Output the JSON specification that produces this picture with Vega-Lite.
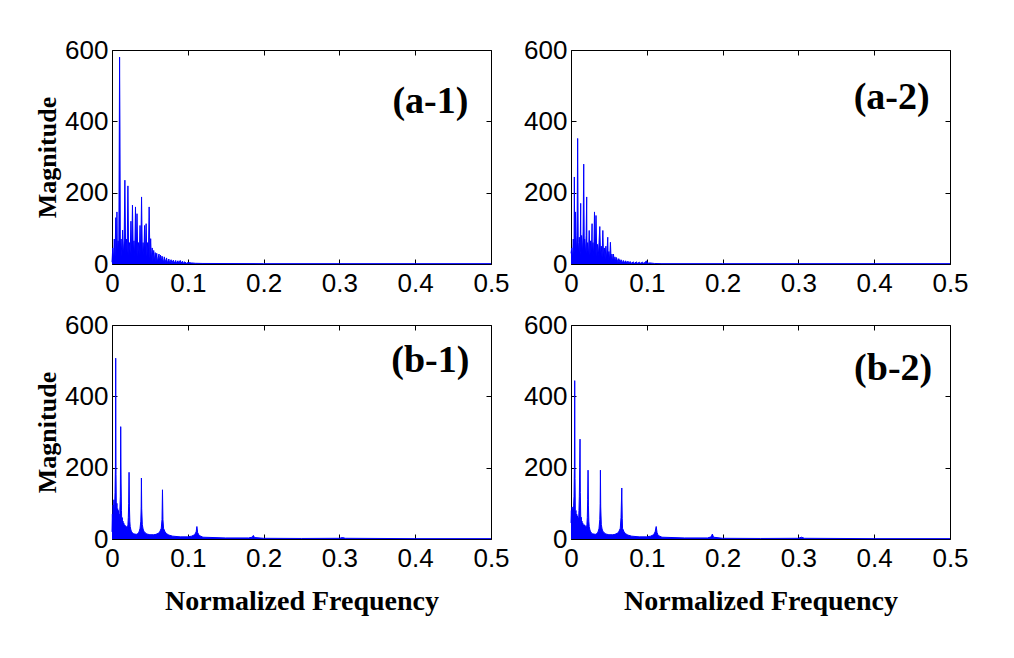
{
  "$schema": "https://vega.github.io/schema/vega-lite/v6.json",
  "background": "white",
  "padding": {"left": 34, "top": 36, "right": 5, "bottom": 5},
  "datasets": {
    "labels": [
      {"p": "(a-1)", "f": 0.42, "m": 455},
      {"p": "(a-2)", "f": 0.423, "m": 465},
      {"p": "(b-1)", "f": 0.42, "m": 499},
      {"p": "(b-2)", "f": 0.425, "m": 477}
    ],
    "a1": [
      {"f":0.000,"m":5},{"f":0.001,"m":45},{"f":0.002,"m":10},{"f":0.003,"m":70},{"f":0.004,"m":20},{"f":0.005,"m":130},{"f":0.006,"m":25},{"f":0.0065,"m":146},{"f":0.007,"m":30},{"f":0.008,"m":65},{"f":0.009,"m":40},{"f":0.0095,"m":300},{"f":0.010,"m":580},{"f":0.0105,"m":370},{"f":0.011,"m":45},{"f":0.012,"m":70},{"f":0.013,"m":20},{"f":0.014,"m":95},{"f":0.015,"m":25},{"f":0.016,"m":65},{"f":0.017,"m":235},{"f":0.018,"m":25},{"f":0.019,"m":70},{"f":0.020,"m":30},{"f":0.021,"m":219},{"f":0.022,"m":20},{"f":0.023,"m":60},{"f":0.024,"m":30},{"f":0.025,"m":120},{"f":0.026,"m":20},{"f":0.027,"m":165},{"f":0.028,"m":30},{"f":0.029,"m":65},{"f":0.030,"m":20},{"f":0.031,"m":160},{"f":0.032,"m":25},{"f":0.033,"m":141},{"f":0.034,"m":20},{"f":0.035,"m":60},{"f":0.036,"m":22},{"f":0.037,"m":108},{"f":0.038,"m":25},{"f":0.039,"m":188},{"f":0.040,"m":20},{"f":0.041,"m":60},{"f":0.042,"m":25},{"f":0.043,"m":108},{"f":0.044,"m":20},{"f":0.045,"m":113},{"f":0.046,"m":20},{"f":0.047,"m":60},{"f":0.048,"m":18},{"f":0.049,"m":160},{"f":0.050,"m":15},{"f":0.051,"m":71},{"f":0.052,"m":10},{"f":0.053,"m":45},{"f":0.054,"m":8},{"f":0.055,"m":38},{"f":0.056,"m":8},{"f":0.057,"m":32},{"f":0.058,"m":6},{"f":0.059,"m":30},{"f":0.060,"m":6},{"f":0.062,"m":28},{"f":0.063,"m":5},{"f":0.064,"m":25},{"f":0.065,"m":5},{"f":0.066,"m":22},{"f":0.068,"m":4},{"f":0.069,"m":20},{"f":0.070,"m":4},{"f":0.072,"m":17},{"f":0.073,"m":3},{"f":0.075,"m":14},{"f":0.076,"m":3},{"f":0.078,"m":12},{"f":0.079,"m":3},{"f":0.081,"m":11},{"f":0.082,"m":2},{"f":0.084,"m":10},{"f":0.085,"m":2},{"f":0.087,"m":9},{"f":0.088,"m":2},{"f":0.090,"m":10},{"f":0.091,"m":2},{"f":0.093,"m":8},{"f":0.094,"m":2},{"f":0.096,"m":6},{"f":0.098,"m":2},{"f":0.100,"m":4},{"f":0.105,"m":3},{"f":0.110,"m":2},{"f":0.120,"m":1.5},{"f":0.2,"m":1},{"f":0.3,"m":1},{"f":0.4,"m":1},{"f":0.5,"m":1}
    ],
    "a2": [
      {"f":0.000,"m":30},{"f":0.001,"m":45},{"f":0.002,"m":15},{"f":0.003,"m":70},{"f":0.004,"m":25},{"f":0.0044,"m":244},{"f":0.005,"m":40},{"f":0.006,"m":146},{"f":0.007,"m":30},{"f":0.008,"m":80},{"f":0.0088,"m":352},{"f":0.0095,"m":60},{"f":0.010,"m":30},{"f":0.011,"m":75},{"f":0.012,"m":25},{"f":0.0128,"m":170},{"f":0.013,"m":35},{"f":0.014,"m":80},{"f":0.015,"m":25},{"f":0.016,"m":90},{"f":0.0168,"m":280},{"f":0.0175,"m":40},{"f":0.018,"m":70},{"f":0.019,"m":25},{"f":0.020,"m":80},{"f":0.0207,"m":188},{"f":0.021,"m":30},{"f":0.022,"m":60},{"f":0.023,"m":20},{"f":0.024,"m":94},{"f":0.025,"m":25},{"f":0.026,"m":65},{"f":0.027,"m":20},{"f":0.0278,"m":113},{"f":0.028,"m":25},{"f":0.029,"m":60},{"f":0.030,"m":20},{"f":0.031,"m":146},{"f":0.032,"m":25},{"f":0.033,"m":136},{"f":0.034,"m":20},{"f":0.035,"m":55},{"f":0.036,"m":20},{"f":0.037,"m":60},{"f":0.038,"m":105},{"f":0.039,"m":20},{"f":0.040,"m":50},{"f":0.041,"m":18},{"f":0.042,"m":94},{"f":0.043,"m":15},{"f":0.044,"m":45},{"f":0.045,"m":15},{"f":0.046,"m":50},{"f":0.047,"m":12},{"f":0.0485,"m":75},{"f":0.049,"m":12},{"f":0.050,"m":35},{"f":0.051,"m":10},{"f":0.052,"m":61},{"f":0.053,"m":8},{"f":0.054,"m":28},{"f":0.055,"m":6},{"f":0.056,"m":28},{"f":0.057,"m":6},{"f":0.058,"m":20},{"f":0.059,"m":5},{"f":0.060,"m":18},{"f":0.062,"m":4},{"f":0.063,"m":15},{"f":0.065,"m":4},{"f":0.066,"m":12},{"f":0.068,"m":3},{"f":0.069,"m":10},{"f":0.071,"m":3},{"f":0.072,"m":9},{"f":0.074,"m":2},{"f":0.075,"m":8},{"f":0.077,"m":2},{"f":0.078,"m":7},{"f":0.080,"m":2},{"f":0.082,"m":6},{"f":0.084,"m":2},{"f":0.086,"m":6},{"f":0.088,"m":2},{"f":0.090,"m":5},{"f":0.092,"m":2},{"f":0.094,"m":5},{"f":0.096,"m":2},{"f":0.098,"m":5},{"f":0.0995,"m":9},{"f":0.101,"m":2},{"f":0.104,"m":3},{"f":0.110,"m":1.5},{"f":0.120,"m":1},{"f":0.2,"m":1},{"f":0.3,"m":1},{"f":0.4,"m":1},{"f":0.5,"m":1}
    ],
    "b1": [
      {"f":0.000,"m":20},{"f":0.0005,"m":70},{"f":0.001,"m":30},{"f":0.0015,"m":95},{"f":0.002,"m":40},{"f":0.0025,"m":110},{"f":0.003,"m":50},{"f":0.0035,"m":90},{"f":0.004,"m":130},{"f":0.0045,"m":200},{"f":0.0049,"m":507},{"f":0.0053,"m":180},{"f":0.0057,"m":90},{"f":0.006,"m":50},{"f":0.0065,"m":100},{"f":0.007,"m":40},{"f":0.0075,"m":85},{"f":0.008,"m":35},{"f":0.0085,"m":80},{"f":0.009,"m":30},{"f":0.0095,"m":70},{"f":0.010,"m":40},{"f":0.0105,"m":90},{"f":0.011,"m":120},{"f":0.0115,"m":315},{"f":0.012,"m":157},{"f":0.0125,"m":80},{"f":0.013,"m":35},{"f":0.0135,"m":60},{"f":0.014,"m":25},{"f":0.0145,"m":50},{"f":0.015,"m":20},{"f":0.0155,"m":45},{"f":0.016,"m":18},{"f":0.0165,"m":40},{"f":0.017,"m":15},{"f":0.0175,"m":38},{"f":0.018,"m":15},{"f":0.0185,"m":35},{"f":0.019,"m":18},{"f":0.0195,"m":35},{"f":0.020,"m":25},{"f":0.021,"m":40},{"f":0.0215,"m":60},{"f":0.022,"m":100},{"f":0.0225,"m":187},{"f":0.023,"m":90},{"f":0.0235,"m":50},{"f":0.024,"m":35},{"f":0.025,"m":25},{"f":0.026,"m":20},{"f":0.027,"m":18},{"f":0.028,"m":15},{"f":0.030,"m":14},{"f":0.032,"m":13},{"f":0.034,"m":15},{"f":0.035,"m":18},{"f":0.036,"m":22},{"f":0.037,"m":30},{"f":0.038,"m":50},{"f":0.0385,"m":90},{"f":0.0388,"m":171},{"f":0.0392,"m":85},{"f":0.040,"m":40},{"f":0.041,"m":28},{"f":0.042,"m":22},{"f":0.044,"m":17},{"f":0.046,"m":14},{"f":0.050,"m":12},{"f":0.055,"m":12},{"f":0.058,"m":13},{"f":0.061,"m":16},{"f":0.063,"m":20},{"f":0.065,"m":30},{"f":0.066,"m":55},{"f":0.0666,"m":138},{"f":0.0672,"m":55},{"f":0.068,"m":30},{"f":0.070,"m":20},{"f":0.072,"m":15},{"f":0.075,"m":11},{"f":0.080,"m":8},{"f":0.090,"m":6},{"f":0.100,"m":6},{"f":0.105,"m":8},{"f":0.109,"m":12},{"f":0.111,"m":20},{"f":0.112,"m":35},{"f":0.113,"m":18},{"f":0.115,"m":10},{"f":0.12,"m":5},{"f":0.15,"m":3},{"f":0.18,"m":3},{"f":0.185,"m":5},{"f":0.1865,"m":10},{"f":0.188,"m":4},{"f":0.2,"m":2},{"f":0.25,"m":1.5},{"f":0.30,"m":2},{"f":0.304,"m":4},{"f":0.308,"m":2},{"f":0.4,"m":1},{"f":0.5,"m":1}
    ],
    "b2": [
      {"f":0.000,"m":45},{"f":0.0005,"m":80},{"f":0.001,"m":40},{"f":0.0015,"m":90},{"f":0.002,"m":50},{"f":0.0025,"m":85},{"f":0.003,"m":60},{"f":0.0035,"m":95},{"f":0.004,"m":120},{"f":0.0045,"m":200},{"f":0.0049,"m":444},{"f":0.0053,"m":170},{"f":0.0057,"m":80},{"f":0.006,"m":45},{"f":0.0065,"m":80},{"f":0.007,"m":35},{"f":0.0075,"m":70},{"f":0.008,"m":30},{"f":0.0085,"m":65},{"f":0.009,"m":30},{"f":0.0095,"m":60},{"f":0.010,"m":45},{"f":0.0105,"m":80},{"f":0.011,"m":120},{"f":0.0115,"m":200},{"f":0.0119,"m":280},{"f":0.0123,"m":130},{"f":0.0128,"m":70},{"f":0.013,"m":30},{"f":0.0135,"m":61},{"f":0.014,"m":25},{"f":0.0145,"m":50},{"f":0.015,"m":20},{"f":0.0155,"m":45},{"f":0.016,"m":18},{"f":0.0165,"m":40},{"f":0.017,"m":15},{"f":0.0175,"m":40},{"f":0.018,"m":16},{"f":0.0185,"m":38},{"f":0.019,"m":18},{"f":0.0195,"m":35},{"f":0.020,"m":25},{"f":0.021,"m":40},{"f":0.0215,"m":60},{"f":0.022,"m":110},{"f":0.0225,"m":193},{"f":0.023,"m":95},{"f":0.0235,"m":50},{"f":0.024,"m":35},{"f":0.025,"m":25},{"f":0.026,"m":20},{"f":0.027,"m":17},{"f":0.028,"m":15},{"f":0.030,"m":14},{"f":0.032,"m":13},{"f":0.034,"m":15},{"f":0.035,"m":18},{"f":0.036,"m":22},{"f":0.037,"m":30},{"f":0.038,"m":55},{"f":0.0385,"m":100},{"f":0.0388,"m":193},{"f":0.0392,"m":90},{"f":0.040,"m":40},{"f":0.041,"m":28},{"f":0.042,"m":22},{"f":0.044,"m":17},{"f":0.046,"m":14},{"f":0.050,"m":12},{"f":0.055,"m":12},{"f":0.058,"m":13},{"f":0.061,"m":16},{"f":0.063,"m":20},{"f":0.065,"m":30},{"f":0.066,"m":60},{"f":0.067,"m":143},{"f":0.0676,"m":58},{"f":0.068,"m":30},{"f":0.070,"m":20},{"f":0.072,"m":15},{"f":0.075,"m":11},{"f":0.080,"m":8},{"f":0.090,"m":6},{"f":0.100,"m":6},{"f":0.105,"m":8},{"f":0.109,"m":12},{"f":0.111,"m":20},{"f":0.1124,"m":35},{"f":0.1135,"m":18},{"f":0.115,"m":10},{"f":0.12,"m":5},{"f":0.15,"m":3},{"f":0.18,"m":3},{"f":0.185,"m":6},{"f":0.1865,"m":14},{"f":0.188,"m":5},{"f":0.2,"m":2},{"f":0.25,"m":1.5},{"f":0.30,"m":2},{"f":0.304,"m":5},{"f":0.308,"m":2},{"f":0.4,"m":1},{"f":0.5,"m":1}
    ]
  },
  "concat": [
    {
      "width": 379, "height": 214,
      "layer": [
        {"data": {"name": "a1"}, "mark": {"type": "area", "color": "#0000ff", "opacity": 1},
         "encoding": {
           "x": {"field": "f", "type": "quantitative", "scale": {"domain": [0, 0.5], "nice": false, "zero": false}, "axis": null},
           "y": {"field": "m", "type": "quantitative", "scale": {"domain": [0, 600], "nice": false}, "axis": null}
         }},
        {"data": {"name": "a1"}, "mark": {"type": "line", "color": "#0000ff", "strokeWidth": 1},
         "encoding": {
           "x": {"field": "f", "type": "quantitative", "axis": {"orient": "bottom", "values": [0, 0.1, 0.2, 0.3, 0.4, 0.5], "format": "~g", "title": null}},
           "y": {"field": "m", "type": "quantitative", "axis": {"orient": "left", "values": [0, 200, 400, 600], "title": "Magnitude"}}
         }},
        {"data": {"name": "labels"}, "transform": [{"filter": "datum.p === '(a-1)'"}],
         "mark": {"type": "text", "font": "Liberation Serif", "fontWeight": "bold", "fontSize": 38, "align": "center", "baseline": "middle", "color": "black"},
         "encoding": {
           "text": {"field": "p"},
           "x": {"field": "f", "type": "quantitative", "axis": {"orient": "top", "labels": false, "title": null, "values": [0, 0.1, 0.2, 0.3, 0.4, 0.5]}},
           "y": {"field": "m", "type": "quantitative", "axis": {"orient": "right", "labels": false, "title": null, "values": [0, 200, 400, 600]}}
         }}
      ],
      "resolve": {"axis": {"x": "independent", "y": "independent"}}
    },
    {
      "width": 379, "height": 214,
      "layer": [
        {"data": {"name": "a2"}, "mark": {"type": "area", "color": "#0000ff", "opacity": 1},
         "encoding": {
           "x": {"field": "f", "type": "quantitative", "scale": {"domain": [0, 0.5], "nice": false, "zero": false}, "axis": null},
           "y": {"field": "m", "type": "quantitative", "scale": {"domain": [0, 600], "nice": false}, "axis": null}
         }},
        {"data": {"name": "a2"}, "mark": {"type": "line", "color": "#0000ff", "strokeWidth": 1},
         "encoding": {
           "x": {"field": "f", "type": "quantitative", "axis": {"orient": "bottom", "values": [0, 0.1, 0.2, 0.3, 0.4, 0.5], "format": "~g", "title": null}},
           "y": {"field": "m", "type": "quantitative", "axis": {"orient": "left", "values": [0, 200, 400, 600], "title": null}}
         }},
        {"data": {"name": "labels"}, "transform": [{"filter": "datum.p === '(a-2)'"}],
         "mark": {"type": "text", "font": "Liberation Serif", "fontWeight": "bold", "fontSize": 38, "align": "center", "baseline": "middle", "color": "black"},
         "encoding": {
           "text": {"field": "p"},
           "x": {"field": "f", "type": "quantitative", "axis": {"orient": "top", "labels": false, "title": null, "values": [0, 0.1, 0.2, 0.3, 0.4, 0.5]}},
           "y": {"field": "m", "type": "quantitative", "axis": {"orient": "right", "labels": false, "title": null, "values": [0, 200, 400, 600]}}
         }}
      ],
      "resolve": {"axis": {"x": "independent", "y": "independent"}}
    },
    {
      "width": 379, "height": 214,
      "layer": [
        {"data": {"name": "b1"}, "mark": {"type": "area", "color": "#0000ff", "opacity": 1},
         "encoding": {
           "x": {"field": "f", "type": "quantitative", "scale": {"domain": [0, 0.5], "nice": false, "zero": false}, "axis": null},
           "y": {"field": "m", "type": "quantitative", "scale": {"domain": [0, 600], "nice": false}, "axis": null}
         }},
        {"data": {"name": "b1"}, "mark": {"type": "line", "color": "#0000ff", "strokeWidth": 1},
         "encoding": {
           "x": {"field": "f", "type": "quantitative", "axis": {"orient": "bottom", "values": [0, 0.1, 0.2, 0.3, 0.4, 0.5], "format": "~g", "title": "Normalized Frequency"}},
           "y": {"field": "m", "type": "quantitative", "axis": {"orient": "left", "values": [0, 200, 400, 600], "title": "Magnitude"}}
         }},
        {"data": {"name": "labels"}, "transform": [{"filter": "datum.p === '(b-1)'"}],
         "mark": {"type": "text", "font": "Liberation Serif", "fontWeight": "bold", "fontSize": 38, "align": "center", "baseline": "middle", "color": "black"},
         "encoding": {
           "text": {"field": "p"},
           "x": {"field": "f", "type": "quantitative", "axis": {"orient": "top", "labels": false, "title": null, "values": [0, 0.1, 0.2, 0.3, 0.4, 0.5]}},
           "y": {"field": "m", "type": "quantitative", "axis": {"orient": "right", "labels": false, "title": null, "values": [0, 200, 400, 600]}}
         }}
      ],
      "resolve": {"axis": {"x": "independent", "y": "independent"}}
    },
    {
      "width": 379, "height": 214,
      "layer": [
        {"data": {"name": "b2"}, "mark": {"type": "area", "color": "#0000ff", "opacity": 1},
         "encoding": {
           "x": {"field": "f", "type": "quantitative", "scale": {"domain": [0, 0.5], "nice": false, "zero": false}, "axis": null},
           "y": {"field": "m", "type": "quantitative", "scale": {"domain": [0, 600], "nice": false}, "axis": null}
         }},
        {"data": {"name": "b2"}, "mark": {"type": "line", "color": "#0000ff", "strokeWidth": 1},
         "encoding": {
           "x": {"field": "f", "type": "quantitative", "axis": {"orient": "bottom", "values": [0, 0.1, 0.2, 0.3, 0.4, 0.5], "format": "~g", "title": "Normalized Frequency"}},
           "y": {"field": "m", "type": "quantitative", "axis": {"orient": "left", "values": [0, 200, 400, 600], "title": null}}
         }},
        {"data": {"name": "labels"}, "transform": [{"filter": "datum.p === '(b-2)'"}],
         "mark": {"type": "text", "font": "Liberation Serif", "fontWeight": "bold", "fontSize": 38, "align": "center", "baseline": "middle", "color": "black"},
         "encoding": {
           "text": {"field": "p"},
           "x": {"field": "f", "type": "quantitative", "axis": {"orient": "top", "labels": false, "title": null, "values": [0, 0.1, 0.2, 0.3, 0.4, 0.5]}},
           "y": {"field": "m", "type": "quantitative", "axis": {"orient": "right", "labels": false, "title": null, "values": [0, 200, 400, 600]}}
         }}
      ],
      "resolve": {"axis": {"x": "independent", "y": "independent"}}
    }
  ],
  "columns": 2,
  "spacing": {"row": 61, "column": 80},
  "bounds": "flush",
  "config": {
    "view": {"stroke": "black", "strokeWidth": 1},
    "axis": {
      "domain": false, "grid": false, "ticks": true, "tickSize": -5, "tickColor": "black", "tickWidth": 1,
      "labelFont": "Liberation Sans", "labelFontSize": 26, "labelColor": "black", "labelFlush": false, "labelOverlap": false,
      "titleFont": "Liberation Serif", "titleFontWeight": "bold", "titleFontSize": 26, "titleColor": "black"
    },
    "axisX": {"labelPadding": 11, "titlePadding": 16, "titleFontSize": 28},
    "axisY": {"labelPadding": 9, "titlePadding": 4}
  }
}
